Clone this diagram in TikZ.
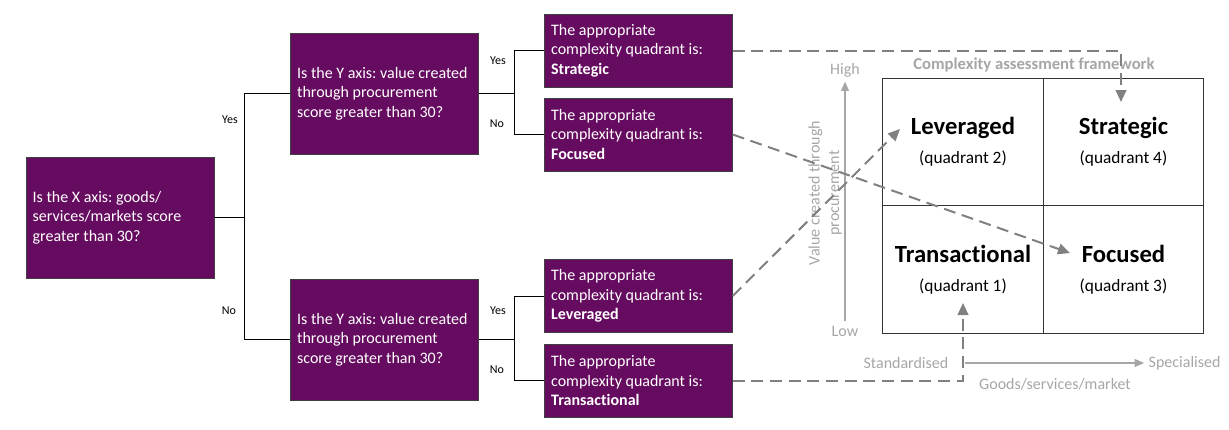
\documentclass[tikz,border=0pt]{standalone}
\usepackage{fontspec}
\setmainfont{Carlito}[Ligatures=NoCommon]
\usetikzlibrary{arrows.meta}
\definecolor{plum}{RGB}{102,12,96}
\definecolor{axisgrey}{RGB}{166,166,166}
\definecolor{dashgrey}{RGB}{128,128,128}
\newcommand{\quadnamefont}{\fontsize{18.5}{22}\selectfont\bfseries}
\tikzset{
        question/.style={draw=black!75, line width=0.4pt, fill=plum, text=white, align=flush left, text width=131pt, inner sep=5pt, minimum height=90.75pt, font=\fontsize{12}{14.6}\selectfont},
        answer/.style={question, minimum height=54.75pt},
        branch/.style={line width=0.6pt},
        branchlabel/.style={font=\fontsize{9}{11}\selectfont},
        cell/.style={draw=black!80, line width=0.8pt, minimum width=120.4pt, minimum height=95.6pt, align=center, font=\fontsize{13}{21.5}\selectfont},
        frametitle/.style={text=axisgrey, font=\fontsize{12.5}{15}\selectfont\bfseries},
        link/.style={draw=dashgrey, line width=1.5pt, dash pattern=on 9pt off 5pt, -{Triangle[length=9pt,width=8pt]}},
        axis/.style={draw=axisgrey, line width=0.8pt, -{Triangle[length=7pt,width=6pt]}},
        axislabel/.style={text=axisgrey, font=\fontsize{12}{14.6}\selectfont}
          }
\begin{document}
\frenchspacing
\begin{tikzpicture}[x=0.75pt, y=-0.75pt]
            \useasboundingbox (0,0) rectangle (1229,429);
            % questions
            \node[question] (xq) at (120,217.5) {Is the X axis: goods/\\services/markets score\\greater than 30?};
            \node[question] (yhigh) at (384.5,93.5) {Is the Y axis: value created\\through procurement\\score greater than 30?};
            \node[question] (ylow) at (384.5,339.5) {Is the Y axis: value created\\through procurement\\score greater than 30?};
            % answers
            \node[answer] (strategic) at (638.5,50.5) {The appropriate\\complexity quadrant is:\\\textbf{Strategic}};
            \node[answer] (focused) at (638.5,134.5) {The appropriate\\complexity quadrant is:\\\textbf{Focused}};
            \node[answer] (leveraged) at (638.5,296) {The appropriate\\complexity quadrant is:\\\textbf{Leveraged}};
            \node[answer] (transactional) at (638.5,380.5) {The appropriate\\complexity quadrant is:\\\textbf{Transactional}};
            % tree connectors
            \coordinate (xfork) at (244,217.5);
            \coordinate (highfork) at (514,93.5);
            \coordinate (lowfork) at (514,339.5);
            \draw[branch] (xq.east) -- (xfork);
            \draw[branch] (xfork) |- (yhigh.west);
            \draw[branch] (xfork) |- (ylow.west);
            \draw[branch] (yhigh.east) -- (highfork);
            \draw[branch] (highfork) |- (strategic.west);
            \draw[branch] (highfork) |- (focused.west);
            \draw[branch] (ylow.east) -- (lowfork);
            \draw[branch] (lowfork) |- (leveraged.west);
            \draw[branch] (lowfork) |- (transactional.west);
            \node[branchlabel] (xyes) at (230,120) {Yes};
            \node[branchlabel] (xno) at (229,311) {No};
            \node[branchlabel] (highyes) at (498,61) {Yes};
            \node[branchlabel] (highno) at (497,124) {No};
            \node[branchlabel] (lowyes) at (498,311) {Yes};
            \node[branchlabel] (lowno) at (497,370) {No};
            % framework
            \node[frametitle] (title) at (1034,65) {Complexity assessment framework};
            \node[cell] (q2) at (963,142) {{\quadnamefont Leveraged}\\(quadrant 2)};
            \node[cell] (q4) at (1123.5,142) {{\quadnamefont Strategic}\\(quadrant 4)};
            \node[cell] (q1) at (963,269.5) {{\quadnamefont Transactional}\\(quadrant 1)};
            \node[cell] (q3) at (1123.5,269.5) {{\quadnamefont Focused}\\(quadrant 3)};
            % axes
            \node[axislabel] (high) at (845,70) {High};
            \node[axislabel] (low) at (845,331) {Low};
            \draw[axis] (low.north) -- (high.south);
            \node[axislabel, rotate=90, align=center] (ylabel) at (825,193) {Value created through\\procurement};
            \coordinate (xstart) at (965,363);
            \node[axislabel, anchor=east] (standard) at (953,363) {Standardised};
            \node[axislabel, anchor=west] (special) at (1144,363) {Specialised};
            \draw[axis] (xstart) -- (special.west);
            \node[axislabel] (xlabel) at (1055,384) {Goods/services/market};
            % links to the framework
            \coordinate (strategictip) at (1121,102);
            \coordinate (focusedtip) at (1070,253);
            \coordinate (leveragedtip) at (900,129);
            \coordinate (transactionaltip) at (963,303);
            \draw[link] (strategic.east) -| (strategictip);
            \draw[link] (focused.east) -- (focusedtip);
            \draw[link] (leveraged.east) -- (leveragedtip);
            \draw[link] (transactional.east) -| (transactionaltip);
          \end{tikzpicture}
\end{document}
